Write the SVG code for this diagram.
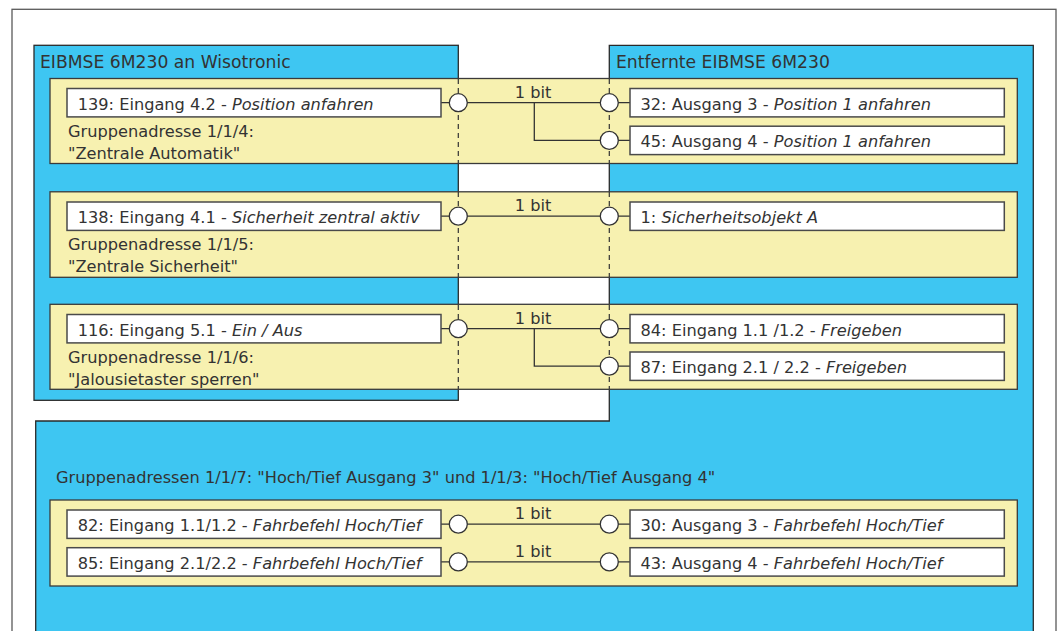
<svg xmlns="http://www.w3.org/2000/svg" width="1059" height="631" viewBox="0 0 1059 631">
<style>
text{font-family:"DejaVu Sans","Liberation Sans",sans-serif;font-size:16.2px;fill:#333}
.t{font-size:17.2px}
.i{font-style:italic}
.blue{fill:#3ec6f2;stroke:#2a2a2a;stroke-width:1.3}
.band{fill:#f7f1b0;stroke:#3a3a3a;stroke-width:1.3}
.box{fill:#fff;stroke:#4a4a4a;stroke-width:1.5}
.ln{fill:none;stroke:#333;stroke-width:1.3}
.dash{fill:none;stroke:#333;stroke-width:1.2;stroke-dasharray:5 4}
.pin{fill:#fff;stroke:#333;stroke-width:1.3}
.lbl{text-anchor:middle}
</style>
<rect x="0" y="0" width="1059" height="631" fill="#fff"/>
<rect id="frame" x="12" y="9.3" width="1044" height="660" fill="#fff" stroke="#5a5a5a" stroke-width="1.3"/>

<g id="device-left">
<rect class="blue" x="34" y="45.3" width="424.3" height="355"/>
<text class="t" x="40" y="67.5">EIBMSE 6M230 an Wisotronic</text>
</g>
<g id="device-right">
<path class="blue" d="M609.3,45.3 H1033.3 V680 H35.7 V421 H609.3 Z"/>
<text class="t" x="616" y="67.5">Entfernte EIBMSE 6M230</text>
<text x="56" y="482.5">Gruppenadressen 1/1/7: "Hoch/Tief Ausgang 3" und 1/1/3: "Hoch/Tief Ausgang 4"</text>
</g>

<g id="band-1">
<rect class="band" x="50" y="78.5" width="967.3" height="85"/>
<text x="68" y="136.7">Gruppenadresse 1/1/4:</text>
<text x="68" y="159">"Zentrale Automatik"</text>
</g>
<g id="band-2">
<rect class="band" x="50" y="191.8" width="967.3" height="85.5"/>
<text x="68" y="250">Gruppenadresse 1/1/5:</text>
<text x="68" y="272.3">"Zentrale Sicherheit"</text>
</g>
<g id="band-3">
<rect class="band" x="50" y="304.3" width="967.3" height="85"/>
<text x="68" y="362.5">Gruppenadresse 1/1/6:</text>
<text x="68" y="384.8">"Jalousietaster sperren"</text>
</g>
<g id="band-4">
<rect class="band" x="50" y="500" width="967.3" height="86"/>
</g>

<g id="connectors">
<line class="dash" x1="458.3" y1="79" x2="458.3" y2="163"/>
<line class="dash" x1="609.3" y1="79" x2="609.3" y2="163"/>
<line class="dash" x1="458.3" y1="192" x2="458.3" y2="277"/>
<line class="dash" x1="609.3" y1="192" x2="609.3" y2="277"/>
<line class="dash" x1="458.3" y1="305" x2="458.3" y2="389"/>
<line class="dash" x1="609.3" y1="305" x2="609.3" y2="389"/>

<line class="ln" x1="441" y1="102.7" x2="630" y2="102.7"/>
<path class="ln" d="M534.3,102.7 V140.4 H630"/>
<line class="ln" x1="441" y1="216.2" x2="630" y2="216.2"/>
<line class="ln" x1="441" y1="328.7" x2="630" y2="328.7"/>
<path class="ln" d="M534.3,328.7 V366.2 H630"/>
<line class="ln" x1="441" y1="524.2" x2="630" y2="524.2"/>
<line class="ln" x1="441" y1="561.9" x2="630" y2="561.9"/>

<circle class="pin" cx="458.3" cy="102.7" r="9"/>
<circle class="pin" cx="609.3" cy="102.7" r="9"/>
<circle class="pin" cx="609.3" cy="140.4" r="9"/>
<circle class="pin" cx="458.3" cy="216.2" r="9"/>
<circle class="pin" cx="609.3" cy="216.2" r="9"/>
<circle class="pin" cx="458.3" cy="328.7" r="9"/>
<circle class="pin" cx="609.3" cy="328.7" r="9"/>
<circle class="pin" cx="609.3" cy="366.2" r="9"/>
<circle class="pin" cx="458.3" cy="524.2" r="9"/>
<circle class="pin" cx="609.3" cy="524.2" r="9"/>
<circle class="pin" cx="458.3" cy="561.9" r="9"/>
<circle class="pin" cx="609.3" cy="561.9" r="9"/>

<text class="lbl" x="533" y="97.5">1 bit</text>
<text class="lbl" x="533" y="211">1 bit</text>
<text class="lbl" x="533" y="323.5">1 bit</text>
<text class="lbl" x="533" y="519">1 bit</text>
<text class="lbl" x="533" y="556.7">1 bit</text>
</g>

<g id="obj-139">
<rect class="box" x="67" y="88.5" width="374" height="28.4"/>
<text x="77.7" y="109.5">139: Eingang 4.2 - <tspan class="i">Position anfahren</tspan></text>
</g>
<g id="obj-32">
<rect class="box" x="630" y="88.5" width="374.3" height="28.4"/>
<text x="640.5" y="109.5">32: Ausgang 3 - <tspan class="i">Position 1 anfahren</tspan></text>
</g>
<g id="obj-45">
<rect class="box" x="630" y="126.2" width="374.3" height="28.4"/>
<text x="640.5" y="147.2">45: Ausgang 4 - <tspan class="i">Position 1 anfahren</tspan></text>
</g>
<g id="obj-138">
<rect class="box" x="67" y="202" width="374" height="28.4"/>
<text x="77.7" y="223">138: Eingang 4.1 - <tspan class="i">Sicherheit zentral aktiv</tspan></text>
</g>
<g id="obj-1">
<rect class="box" x="630" y="202" width="374.3" height="28.4"/>
<text x="640.5" y="223">1: <tspan class="i">Sicherheitsobjekt A</tspan></text>
</g>
<g id="obj-116">
<rect class="box" x="67" y="314.5" width="374" height="28.4"/>
<text x="77.7" y="335.5">116: Eingang 5.1 - <tspan class="i">Ein / Aus</tspan></text>
</g>
<g id="obj-84">
<rect class="box" x="630" y="314.5" width="374.3" height="28.4"/>
<text x="640.5" y="335.5">84: Eingang 1.1 /1.2 - <tspan class="i">Freigeben</tspan></text>
</g>
<g id="obj-87">
<rect class="box" x="630" y="352" width="374.3" height="28.4"/>
<text x="640.5" y="373">87: Eingang 2.1 / 2.2 - <tspan class="i">Freigeben</tspan></text>
</g>
<g id="obj-82">
<rect class="box" x="67" y="510" width="374" height="28.4"/>
<text x="77.7" y="531">82: Eingang 1.1/1.2 - <tspan class="i">Fahrbefehl Hoch/Tief</tspan></text>
</g>
<g id="obj-30">
<rect class="box" x="630" y="510" width="374.3" height="28.4"/>
<text x="640.5" y="531">30: Ausgang 3 - <tspan class="i">Fahrbefehl Hoch/Tief</tspan></text>
</g>
<g id="obj-85">
<rect class="box" x="67" y="547.7" width="374" height="28.4"/>
<text x="77.7" y="568.7">85: Eingang 2.1/2.2 - <tspan class="i">Fahrbefehl Hoch/Tief</tspan></text>
</g>
<g id="obj-43">
<rect class="box" x="630" y="547.7" width="374.3" height="28.4"/>
<text x="640.5" y="568.7">43: Ausgang 4 - <tspan class="i">Fahrbefehl Hoch/Tief</tspan></text>
</g>
</svg>
